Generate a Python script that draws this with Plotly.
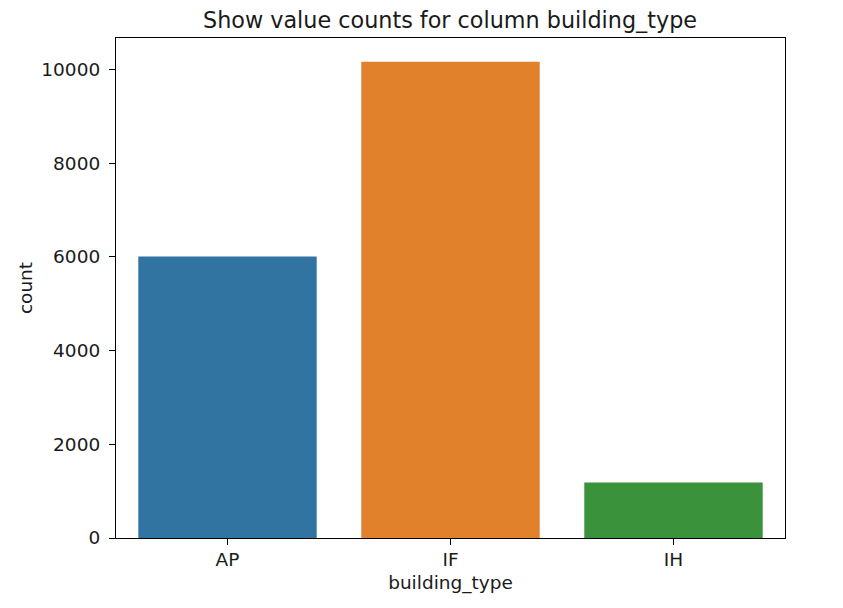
import plotly.graph_objects as go

categories = ["AP", "IF", "IH"]
counts = [6005, 10160, 1183]
colors = ["#3274a1", "#e1812c", "#3a923a"]

fig = go.Figure(go.Bar(x=categories, y=counts, marker=dict(color=colors, line=dict(width=0)), width=0.8))

font = "DejaVu Sans"
W, H = 835, 600
fig.update_layout(
    width=W, height=H,
    margin=dict(l=108, r=58, t=30, b=70),
    plot_bgcolor="white", paper_bgcolor="white",
    showlegend=False,
    title=dict(text="Show value counts for column building_type", x=442 / W, xanchor="center",
               y=1 - 12 / H, yanchor="middle", font=dict(family=font, size=22.3, color="#1a1a1a")),
    font=dict(family=font, size=18.5, color="#1a1a1a"),
)
fig.update_xaxes(range=[-0.5, 2.5], showline=True, linecolor="black", linewidth=1.2, mirror=True,
                 ticks="outside", ticklen=6, tickcolor="black", showgrid=False,
                 ticklabelstandoff=-1,
                 title=dict(text="building_type", font=dict(size=18.5), standoff=6),
                 tickfont=dict(size=18.5))
fig.update_yaxes(range=[0, 10668], showline=True, linecolor="black", linewidth=1.2, mirror=True,
                 ticks="outside", ticklen=6, tickcolor="black", showgrid=False, zeroline=False,
                 tickvals=[0, 2000, 4000, 6000, 8000, 10000], tickformat="d",
                 ticklabelstandoff=5,
                 title=dict(text="count", font=dict(size=18.5), standoff=3),
                 tickfont=dict(size=18.5))

fig.write_html("out.html")
